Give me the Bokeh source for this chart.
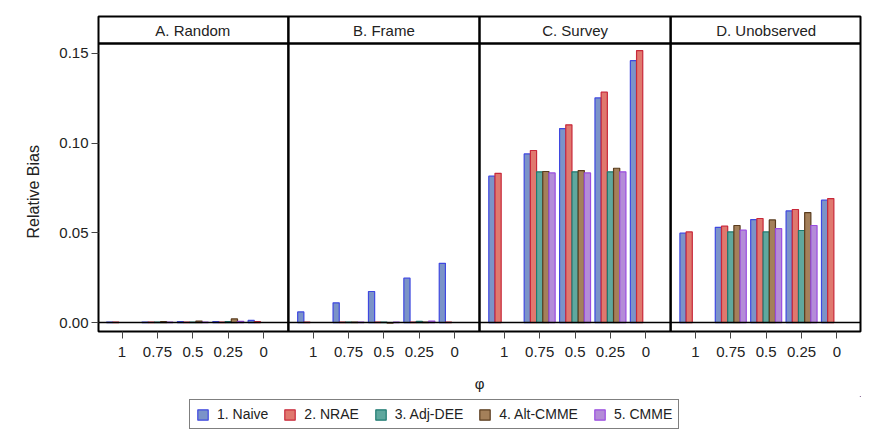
import math
from bokeh.plotting import figure
from bokeh.layouts import column
from bokeh.models import (FactorRange, Range1d, FixedTicker, Span, Legend, LegendItem,
                          ColumnDataSource, NumeralTickFormatter)
from bokeh.transform import dodge
from bokeh.core.properties import value
from bokeh.embed import file_html
from bokeh.resources import INLINE

NaN = float("nan")

panels = ["A. Random", "B. Frame", "C. Survey", "D. Unobserved"]
phis = ["1", "0.75", "0.5", "0.25", "0"]
methods = ["1. Naive", "2. NRAE", "3. Adj-DEE", "4. Alt-CMME", "5. CMME"]

# relative bias, panel by panel (A, B, C, D), phi = 1, 0.75, 0.5, 0.25, 0
naive = [0.0003, 0.0003, 0.0005, 0.0005, 0.0012,
         0.0059, 0.0110, 0.0173, 0.0247, 0.0330,
         0.0816, 0.0940, 0.1081, 0.1252, 0.1460,
         0.0498, 0.0531, 0.0574, 0.0622, 0.0682]
nrae = [0.0002, 0.0003, 0.0003, 0.0003, 0.0005,
        0.0002, 0.0003, 0.0002, 0.0002, 0.0002,
        0.0832, 0.0959, 0.1102, 0.1284, 0.1516,
        0.0505, 0.0537, 0.0580, 0.0630, 0.0691]
adj_dee = [NaN, 0.0002, 0.0002, 0.0005, NaN,
           NaN, 0.0003, 0.0002, 0.0006, NaN,
           NaN, 0.0840, 0.0840, 0.0840, NaN,
           NaN, 0.0505, 0.0505, 0.0513, NaN]
alt_cmme = [NaN, 0.0005, 0.0008, 0.0020, NaN,
            NaN, 0.0002, -0.0003, 0.0002, NaN,
            NaN, 0.0842, 0.0847, 0.0860, NaN,
            NaN, 0.0541, 0.0572, 0.0613, NaN]
cmme = [NaN, 0.0002, 0.0002, 0.0006, NaN,
        NaN, 0.0002, 0.0002, 0.0008, NaN,
        NaN, 0.0834, 0.0834, 0.0840, NaN,
        NaN, 0.0515, 0.0524, 0.0541, NaN]

series = [naive, nrae, adj_dee, alt_cmme, cmme]
fills = ["#7B93C8", "#E0786E", "#5FA89E", "#A4805A", "#B48CD8"]
lines = ["#3F48E0", "#C8283A", "#1E7A70", "#5A3C1E", "#9A4CE0"]

y_ticks = [0.0, 0.05, 0.10, 0.15]
y_lo, header_bottom, y_hi = -0.005, 0.1555, 0.1706

FONT = "Liberation Sans"
TXT = "#222222"

factors = [(pn, ph) for pn in panels for ph in phis]

p = figure(width=875, height=396, output_backend="svg", toolbar_location=None,
           x_range=FactorRange(*factors, group_padding=0.4, range_padding=0.165,
                               range_padding_units="absolute"),
           y_range=Range1d(y_lo, y_hi),
           min_border_left=98, min_border_right=15, min_border_top=16, min_border_bottom=65)
p.title.visible = False
p.grid.visible = False
p.background_fill_color = "white"
p.border_fill_color = "white"
p.outline_line_color = "black"
p.outline_line_width = 2

bar_w = 0.175
for k, (name, vals) in enumerate(zip(methods, series)):
    xs = [f for f, v in zip(factors, vals) if not math.isnan(v)]
    ys = [v for v in vals if not math.isnan(v)]
    src = ColumnDataSource(dict(x=xs, top=ys))
    p.vbar(x=dodge("x", (k - 2) * bar_w, range=p.x_range), top="top", bottom=0,
           width=bar_w, source=src, fill_color=fills[k], line_color=lines[k],
           line_width=1.2)

# zero reference line
p.add_layout(Span(location=0, dimension="width", line_color="black", line_width=1.5))
# header strip bottom
p.add_layout(Span(location=header_bottom, dimension="width", line_color="black", line_width=2.5))

# panel separators
sep_src = ColumnDataSource(dict(x=[(pn, phis[-1]) for pn in panels[:-1]],
                                y0=[y_lo] * 3, y1=[y_hi] * 3))
p.segment(x0=dodge("x", 0.7, range=p.x_range), y0="y0",
          x1=dodge("x", 0.7, range=p.x_range), y1="y1",
          source=sep_src, line_color="black", line_width=2.5)

# header labels
hdr_src = ColumnDataSource(dict(x=[(pn, phis[2]) for pn in panels],
                                y=[(header_bottom + y_hi) / 2] * 4, t=panels))
p.text(x="x", y="y", text="t", source=hdr_src, text_align="center",
       text_baseline="middle", text_font=value(FONT), text_font_size="15px",
       text_color=TXT)

# y axis
p.yaxis.ticker = FixedTicker(ticks=y_ticks)
p.yaxis.formatter = NumeralTickFormatter(format="0.00")
p.yaxis.axis_label = "Relative Bias" + "\u00a0" * 8
p.yaxis.axis_label_text_font = FONT
p.yaxis.axis_label_text_font_style = "normal"
p.yaxis.axis_label_text_font_size = "16px"
p.yaxis.axis_label_text_color = TXT
p.yaxis.axis_label_standoff = 14
p.yaxis.major_label_text_font = FONT
p.yaxis.major_label_text_font_size = "15px"
p.yaxis.major_label_text_color = TXT
p.yaxis.major_label_standoff = 3
p.yaxis.major_tick_out = 7
p.yaxis.major_tick_in = 0
p.yaxis.minor_tick_out = 0
p.yaxis.minor_tick_in = 0
p.yaxis.axis_line_color = None

# x axis
p.xaxis.axis_label = "\u03c6"
p.xaxis.axis_label_text_font = FONT
p.xaxis.axis_label_text_font_style = "normal"
p.xaxis.axis_label_text_font_size = "15px"
p.xaxis.axis_label_text_color = TXT
p.xaxis.axis_label_standoff = 15
p.xaxis.major_label_text_font = FONT
p.xaxis.major_label_text_font_size = "15px"
p.xaxis.major_label_text_color = TXT
p.xaxis.major_label_standoff = 8
p.xaxis.major_tick_out = 7
p.xaxis.major_tick_in = 0
p.xaxis.axis_line_color = None
p.xaxis.group_text_font_size = "1px"
p.xaxis.group_text_alpha = 0
p.xaxis.separator_line_alpha = 0
p.xaxis.major_tick_line_color = "#444444"
p.yaxis.major_tick_line_color = "#444444"

# legend strip (separate canvas so the legend sits freely under the chart)
lg = figure(width=875, height=35, output_backend="svg", toolbar_location=None,
            x_range=Range1d(0, 1), y_range=Range1d(0, 1),
            min_border_left=0, min_border_right=0, min_border_top=0, min_border_bottom=0)
lg.axis.visible = False
lg.grid.visible = False
lg.title.visible = False
lg.outline_line_color = None
lg.background_fill_color = "white"
lg.border_fill_color = "white"
items = []
for k, name in enumerate(methods):
    # legend key only: a single swatch placed outside the visible range
    r = lg.vbar(x=[5], top=[5], bottom=[4], width=0.1, fill_color=fills[k],
                line_color=lines[k], line_width=1.2)
    items.append(LegendItem(label=name, renderers=[r]))

legend = Legend(items=items, orientation="horizontal", location=(91, 2),
                label_text_font=FONT, label_text_font_size="14px",
                label_text_color=TXT, glyph_width=13, glyph_height=13,
                label_standoff=8, spacing=15, padding=6, margin=0,
                border_line_color="black", border_line_width=1,
                background_fill_color="white")
lg.add_layout(legend, "center")

layout = column(p, lg)
open("out.html", "w").write(file_html(layout, INLINE))
